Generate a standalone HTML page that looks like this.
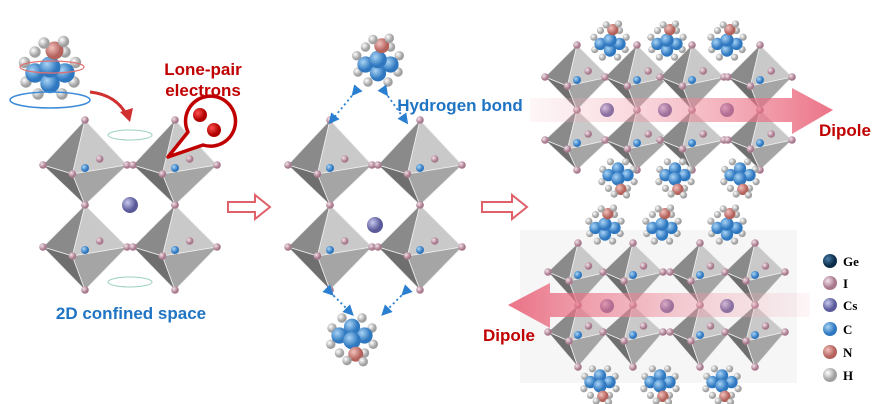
<!DOCTYPE html>
<html><head><meta charset="utf-8"><style>
html,body{margin:0;padding:0;background:#fff;width:878px;height:404px;overflow:hidden}
text{font-family:"Liberation Sans",sans-serif;font-weight:bold}
</style></head><body>
<svg id="s" width="878" height="404" viewBox="0 0 878 404" xmlns="http://www.w3.org/2000/svg">
<defs>
<radialGradient id="gI" cx="35%" cy="35%"><stop offset="0" stop-color="#f3e3ea"/><stop offset="1" stop-color="#a7788c"/></radialGradient>
<radialGradient id="gCs" cx="35%" cy="35%"><stop offset="0" stop-color="#c8c8ee"/><stop offset="1" stop-color="#5a5a9a"/></radialGradient>
<radialGradient id="gC" cx="35%" cy="35%"><stop offset="0" stop-color="#a9d4f5"/><stop offset="1" stop-color="#2f78c0"/></radialGradient>
<radialGradient id="gN" cx="35%" cy="35%"><stop offset="0" stop-color="#f3c2bd"/><stop offset="1" stop-color="#b4625c"/></radialGradient>
<radialGradient id="gH" cx="35%" cy="35%"><stop offset="0" stop-color="#ffffff"/><stop offset="1" stop-color="#a0a0a0"/></radialGradient>
<radialGradient id="gGe" cx="35%" cy="35%"><stop offset="0" stop-color="#4a7ea8"/><stop offset="1" stop-color="#0c2c4a"/></radialGradient>
<radialGradient id="gRed" cx="35%" cy="35%"><stop offset="0" stop-color="#ff5050"/><stop offset="1" stop-color="#b00000"/></radialGradient>
<linearGradient id="aR" x1="0" x2="1"><stop offset="0" stop-color="#f4b6c0" stop-opacity="0.15"/><stop offset="1" stop-color="#e85a72"/></linearGradient>
<linearGradient id="aL" x1="1" x2="0"><stop offset="0" stop-color="#f4b6c0" stop-opacity="0.15"/><stop offset="1" stop-color="#e85a72"/></linearGradient>
<marker id="m" markerWidth="6" markerHeight="6" refX="3" refY="3" orient="auto"><path d="M0 0 L6 3 L0 6 Z" fill="#2a7fd0"/></marker>
</defs>
<rect x="520" y="230" width="277" height="153" fill="#f6f6f6"/>
<g id="g"></g>
<path d="M530 98 H792 V88 L833 110 L792 134 V122 H530 Z" fill="url(#aR)" opacity="0.85"/>
<path d="M810 293 H550 V283 L508 305 L550 328 V317 H810 Z" fill="url(#aL)" opacity="0.85"/>
<path d="M228 202 H255 V195 L270 207 L255 219 V212 H228 Z" fill="#fff" stroke="#e0606a" stroke-width="2"/>
<path d="M482 202 H512 V195 L527 207 L512 219 V212 H482 Z" fill="#fff" stroke="#e0606a" stroke-width="2"/>
<path d="M90 92 Q118 95 128 118" fill="none" stroke="#d03030" stroke-width="3"/>
<path d="M120 112 L130 122 L133 108 Z" fill="#d03030"/>
<path d="M168 157 L188 132 A25 25 0 1 1 203 145 Z" fill="#fff" stroke="#c00000" stroke-width="3.5" stroke-linejoin="round"/>
<circle cx="200" cy="115" r="7" fill="url(#gRed)"/>
<circle cx="214" cy="130" r="7" fill="url(#gRed)"/>
<text x="203" y="75" font-size="17" fill="#c00000" text-anchor="middle">Lone-pair</text>
<text x="203" y="96" font-size="17" fill="#c00000" text-anchor="middle">electrons</text>
<text x="131" y="319" font-size="17" fill="#1f74c4" text-anchor="middle">2D confined space</text>
<text x="460" y="111" font-size="17" fill="#1f74c4" text-anchor="middle">Hydrogen bond</text>
<text x="819" y="136" font-size="17" fill="#c00000">Dipole</text>
<text x="483" y="341" font-size="17" fill="#c00000">Dipole</text>
<g stroke="#2a7fd0" stroke-width="1.8" stroke-dasharray="2 3" fill="none">
<path d="M355 92 L332 120" marker-end="url(#m)" marker-start="url(#m)"/><path d="M385 92 L405 120" marker-end="url(#m)" marker-start="url(#m)"/>
<path d="M330 292 L350 312" marker-end="url(#m)" marker-start="url(#m)"/><path d="M405 292 L385 312" marker-end="url(#m)" marker-start="url(#m)"/>
</g>
<g font-size="13">
<circle cx="830" cy="261" r="7" fill="url(#gGe)"/><text x="843" y="266" style="font-family:'Liberation Serif',serif">Ge</text>
<circle cx="830" cy="283" r="7" fill="url(#gI)"/><text x="843" y="288" style="font-family:'Liberation Serif',serif">I</text>
<circle cx="830" cy="305" r="7" fill="url(#gCs)"/><text x="843" y="310" style="font-family:'Liberation Serif',serif">Cs</text>
<circle cx="830" cy="329" r="7" fill="url(#gC)"/><text x="843" y="334" style="font-family:'Liberation Serif',serif">C</text>
<circle cx="830" cy="352" r="7" fill="url(#gN)"/><text x="843" y="357" style="font-family:'Liberation Serif',serif">N</text>
<circle cx="830" cy="375" r="7" fill="url(#gH)"/><text x="843" y="380" style="font-family:'Liberation Serif',serif">H</text>
</g>
</svg>
<script>
var g=document.getElementById('g'),h='';
function c(x,y,r,f){h+='<circle cx="'+x+'" cy="'+y+'" r="'+r+'" fill="url(#'+f+')"/>';}
function oct(cx,cy,w,t,b){
 var T=[cx,cy-t],B=[cx,cy+b],L=[cx-w,cy-3],R=[cx+w,cy-3],F=[cx-w*0.3,cy+6],K=[cx+w*0.35,cy-9];
 function p(a){return a.map(function(q){return q.join(',')}).join(' ');}
 h+='<polygon points="'+p([T,L,F])+'" fill="#8a8a8a" stroke="#eee" stroke-width="0.8"/>';
 h+='<polygon points="'+p([T,F,R])+'" fill="#c9c9c9" stroke="#eee" stroke-width="0.8"/>';
 h+='<polygon points="'+p([B,L,F])+'" fill="#6f6f6f" stroke="#eee" stroke-width="0.8"/>';
 h+='<polygon points="'+p([B,F,R])+'" fill="#a5a5a5" stroke="#eee" stroke-width="0.8"/>';
 c(cx,cy,4,'gC');
 [T,B,L,R,F,K].forEach(function(q){c(q[0],q[1],3.8,'gI');});
}
function mol(x,y,s,flip){
 var d=flip?-1:1;
 var Hs=[[-16,-8],[16,-8],[-17,5],[17,5],[-8,-16],[8,-16],[-10,12],[10,12]];
 Hs.forEach(function(q){c(x+q[0]*s,y+q[1]*s*d,3.8*s,'gH');});
 c(x-10*s,y-2*s*d,6.5*s,'gC');c(x+10*s,y-2*s*d,6.5*s,'gC');c(x,y-9*s*d,6.5*s,'gC');c(x,y+2*s*d,7*s,'gC');
 c(x+3*s,y+13*s*d,6*s,'gN');c(x-4*s,y+18*s*d,3.8*s,'gH');c(x+9*s,y+19*s*d,3.8*s,'gH');
}
function block(ox){
 oct(ox+85,168,42,48,37);oct(ox+175,168,42,48,37);
 oct(ox+85,250,42,45,40);oct(ox+175,250,42,45,40);
}
block(0);c(130,205,8,'gCs');
block(245);c(375,225,8,'gCs');
[577,637,692,760].forEach(function(x){oct(x,80,32,35,30);oct(x,143,32,33,27);});
[607,665,727].forEach(function(x){c(x,110,7,'gCs');});
[578,633,700,755].forEach(function(x){oct(x,275,30,32,30);oct(x,335,30,30,32);});
[607,667,727].forEach(function(x){c(x,306,7,'gCs');});
mol(50,70,1.5,true);
mol(378,62,1.25,true);mol(352,338,1.25,false);
[610,667,727].forEach(function(x){mol(x,42,0.95,true);});
[618,675,740].forEach(function(x){mol(x,177,0.95,false);});
[605,662,727].forEach(function(x){mol(x,226,0.95,true);});
[600,660,722].forEach(function(x){mol(x,384,0.95,false);});
h+='<ellipse cx="52" cy="67" rx="32" ry="6" fill="none" stroke="#e07070" stroke-width="1.2"/>';
h+='<ellipse cx="50" cy="100" rx="40" ry="8" fill="none" stroke="#3a8ad8" stroke-width="1.5"/>';
h+='<ellipse cx="130" cy="135" rx="22" ry="5" fill="none" stroke="#9ad0c0" stroke-width="1"/>';
h+='<ellipse cx="130" cy="282" rx="22" ry="5" fill="none" stroke="#9ad0c0" stroke-width="1"/>';
g.innerHTML=h;
</script>
</body></html>
